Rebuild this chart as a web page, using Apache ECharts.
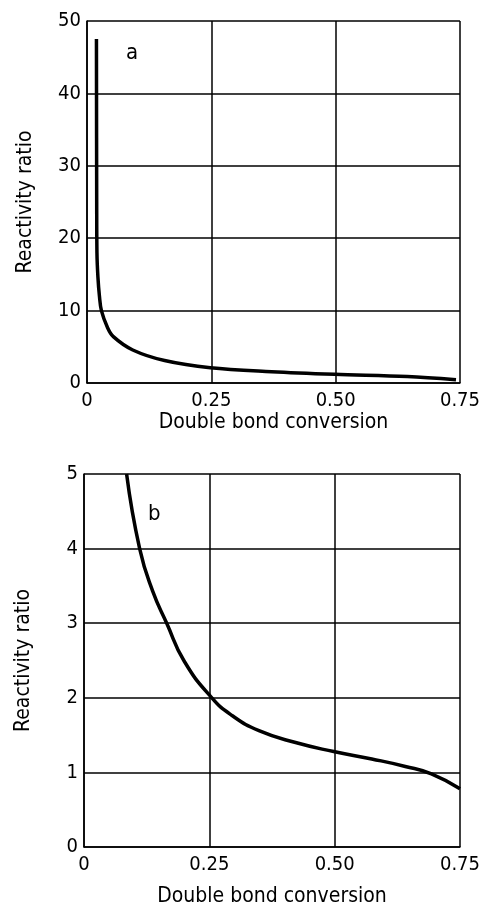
<!DOCTYPE html>
<html><head><meta charset="utf-8">
<script src="https://cdn.jsdelivr.net/npm/echarts@6/dist/echarts.min.js"></script>
<style>html,body{margin:0;padding:0;background:#fff}#c{width:483px;height:908px}</style>
</head><body><div id="c"></div>
<script>
// Panel a data
const convA = [0.019, 0.0195, 0.020, 0.022, 0.025, 0.029, 0.041, 0.053, 0.092, 0.156, 0.248, 0.371, 0.498, 0.644, 0.742];
const ratioA = [47.5, 25, 18, 14.6, 12, 10, 7.7, 6.4, 4.56, 3.1, 2.1, 1.56, 1.2, 0.9, 0.45];
// Panel b data
const convB = [0.085, 0.111, 0.137, 0.165, 0.200, 0.255, 0.296, 0.349, 0.422, 0.498, 0.574, 0.641, 0.693, 0.75];
const ratioB = [5, 4, 3.43, 3, 2.49, 2, 1.76, 1.56, 1.40, 1.28, 1.18, 1.08, 0.98, 0.78];
const xTicks = ['0', '0.25', '0.50', '0.75'];
const panelLabels = ['a', 'b'];
const xName = 'Double bond conversion';
const yName = 'Reactivity ratio';

const FONT = 'DejaVu Sans Condensed';
const black = '#000';
function xAxis(gi, nameGap) {
  return {
    type: 'value', gridIndex: gi, min: 0, max: 0.75, interval: 0.25,
    name: xName, nameLocation: 'middle', nameGap: nameGap,
    nameTextStyle: {fontFamily: FONT, fontSize: 21, color: black},
    axisLine: {show: true, lineStyle: {color: black, width: 1.5}},
    axisTick: {show: false},
    axisLabel: {fontFamily: FONT, fontSize: 20, color: black, margin: 8,
      formatter: v => xTicks[Math.round(v / 0.25)]},
    splitLine: {show: true, lineStyle: {color: black, width: 1.5}}
  };
}
function yAxis(gi, max, interval, nameGap) {
  return {
    type: 'value', gridIndex: gi, min: 0, max: max, interval: interval,
    name: yName, nameLocation: 'middle', nameGap: nameGap,
    nameTextStyle: {fontFamily: FONT, fontSize: 21, color: black},
    axisLine: {show: true, lineStyle: {color: black, width: 1.5}},
    axisTick: {show: false},
    axisLabel: {fontFamily: FONT, fontSize: 20, color: black, margin: 6},
    splitLine: {show: true, lineStyle: {color: black, width: 1.5}}
  };
}
const chart = echarts.init(document.getElementById('c'));
chart.setOption({
  animation: false,
  backgroundColor: '#fff',
  grid: [
    {left: 87, top: 21, width: 384, height: 362},
    {left: 84, top: 474, width: 378, height: 375}
  ],
  xAxis: [xAxis(0, 25), xAxis(1, 39)],
  yAxis: [yAxis(0, 50, 10, 51), yAxis(1, 5, 1, 50)],
  graphic: [
    {type: 'text', left: 126, top: 42, style: {text: panelLabels[0], font: '22px ' + FONT, fill: black}},
    {type: 'text', left: 148, top: 503, style: {text: panelLabels[1], font: '22px ' + FONT, fill: black}}
  ],
  series: [
    {type: 'line', xAxisIndex: 0, yAxisIndex: 0, showSymbol: false, smooth: 0.35,
      lineStyle: {color: black, width: 3.5}, data: convA.map((x, i) => [x, ratioA[i]])},
    {type: 'line', xAxisIndex: 1, yAxisIndex: 1, showSymbol: false, smooth: 0.5,
      lineStyle: {color: black, width: 3.5}, data: convB.map((x, i) => [x, ratioB[i]])}
  ]
});
</script></body></html>
